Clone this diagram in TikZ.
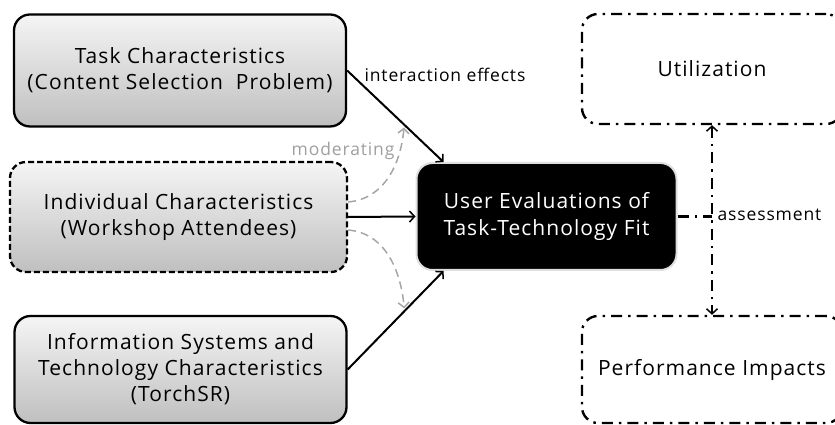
\documentclass[tikz,border=0pt]{standalone}
\usepackage{fontspec}
\setmainfont{Open Sans}[LetterSpace=5]
\usetikzlibrary{arrows.meta,shadows}
\begin{document}
\begin{tikzpicture}[x=1pt,y=1pt,
  >={Straight Barb[length=5pt,width=11pt,line width=1.5pt]},
  graybox/.style={rounded corners=16pt, minimum width=332pt, minimum height=112pt,
     top color=gray!8, bottom color=gray!50, draw=black, line width=2.3pt,
     align=center, font=\fontsize{21}{26}\selectfont},
  evalbox/.style={rounded corners=16pt, minimum width=260pt, minimum height=107pt,
     fill=black, draw=gray!25, line width=2pt, text=white,
     align=center, font=\fontsize{21}{27}\selectfont},
  outbox/.style={rounded corners=16pt, minimum width=260pt, minimum height=110pt,
     draw=black, line width=2.4pt, dash pattern=on 11pt off 6pt on 2.5pt off 6pt,
     align=center, font=\fontsize{21}{26}\selectfont},
  conn/.style={->, line width=2pt},
  modconn/.style={->, gray!70, line width=1.5pt, dash pattern=on 8pt off 5pt},
  lbl/.style={font=\fontsize{17.5}{20}\selectfont},
  dashdot/.style={line width=2.4pt, dash pattern=on 11pt off 6pt on 2.5pt off 6pt}
]
\useasboundingbox (0,0) rectangle (835,425);
\node[graybox] (task) at (180,354.5) {Task Characteristics\\(Content Selection\ \ Problem)};
\node[graybox, minimum width=337pt, minimum height=110pt, dash pattern=on 6pt off 3pt] (indiv) at (178.5,208) {Individual Characteristics\\(Workshop Attendees)};
\node[graybox, minimum height=107pt] (info) at (180.5,55.5) {Information Systems and\\Technology Characteristics\\(TorchSR)};
\node[evalbox] (eval) at (546.5,208.5) {User Evaluations of\\Task-Technology Fit};
\node[outbox] (util) at (712,356) {Utilization};
\node[outbox, minimum height=107pt] (perf) at (712,55.5) {Performance Impacts};

\draw[conn] (task.east) -- coordinate[pos=0.59] (m1) ([xshift=28pt]eval.north west);
\draw[conn] (indiv.east) -- (eval.west);
\draw[conn] (info.east) -- coordinate[pos=0.59] (m2) ([xshift=28pt]eval.south west);
\draw[modconn] ([yshift=15pt]indiv.east) to[out=5,in=-95] ([yshift=-3pt]m1);
\draw[modconn] ([yshift=-13pt]indiv.east) to[out=-5,in=95] ([yshift=3pt]m2);

\node[lbl, anchor=west] (ie) at (361,350) {interaction effects};
\node[lbl, text=gray!75, anchor=east] (mod) at (398,274) {moderating};

\coordinate (corner) at (eval.east -| util.south);
\draw[dashdot] (eval.east) -- (corner);
\draw[dashdot, <->] (util.south) -- (perf.north);
\node[lbl, anchor=west] (as) at (714,210) {assessment};
\end{tikzpicture}
\end{document}
